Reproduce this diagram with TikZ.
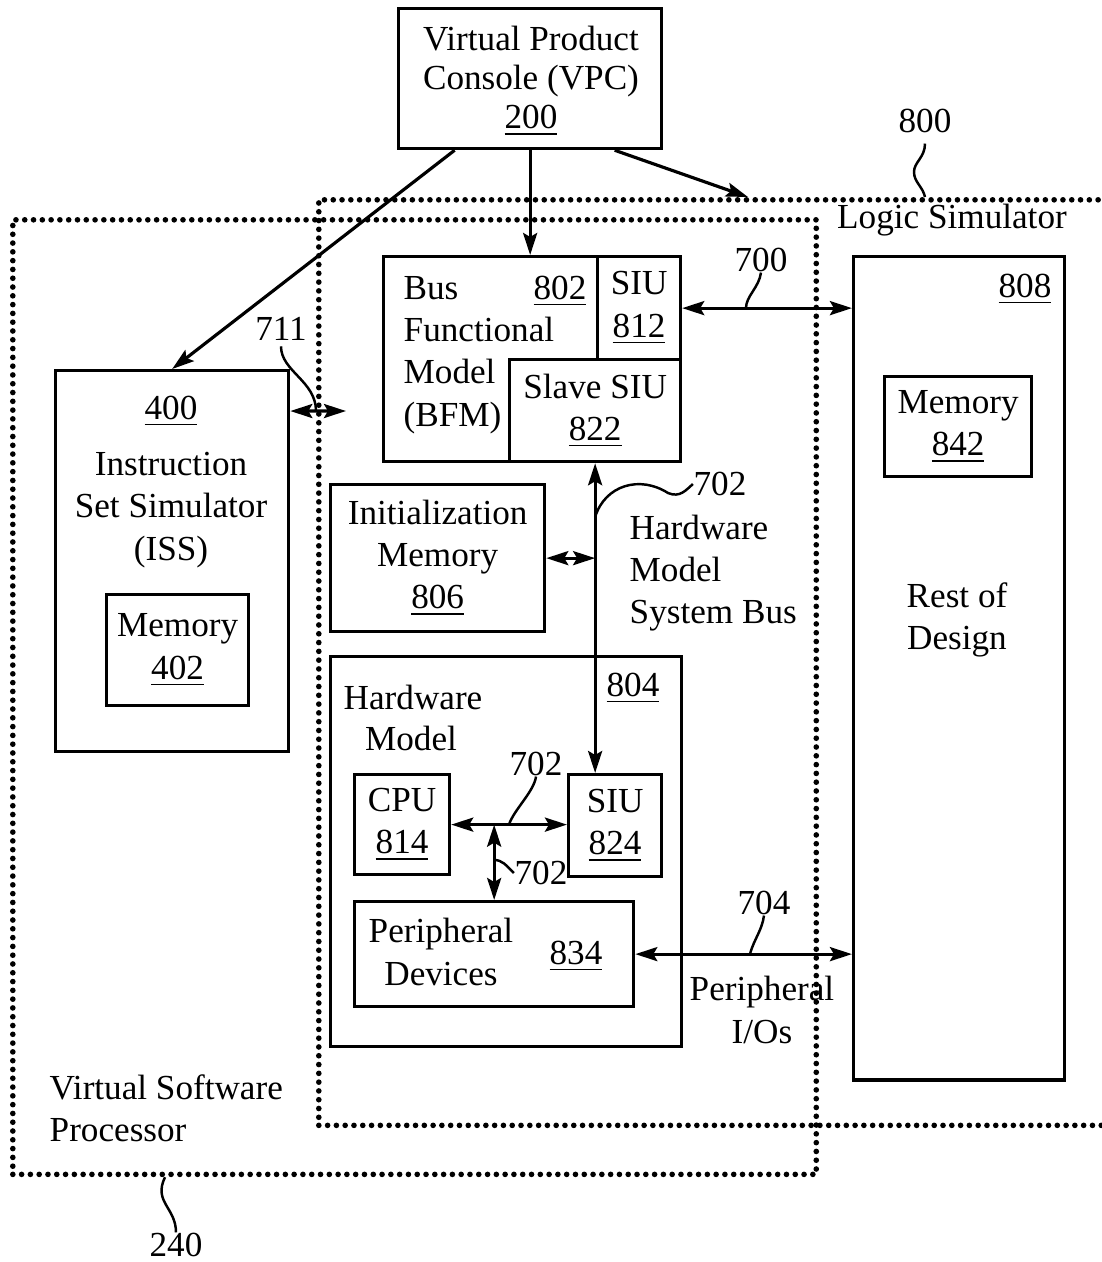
\documentclass[tikz,border=0pt]{standalone}
\usepackage{fontspec}
\setmainfont{Liberation Serif}
\usetikzlibrary{arrows.meta,calc}
\tikzset{blk/.style={draw, line width=0.9pt, inner sep=0pt, anchor=north west, align=center}}
\tikzset{dotbox/.style={draw, line width=1.6pt, line cap=round, dash pattern=on 0pt off 2.5pt, inner sep=0pt, anchor=north west}}
\tikzset{txt/.style={inner sep=0pt}}
\tikzset{bus/.style={line width=0.9pt}}
\tikzset{lead/.style={line width=0.7pt}}
\begin{document}
\begin{tikzpicture}[x=0.01cm, y=-0.01cm, font=\fontsize{10}{12}\selectfont,
  >={Stealth[length=2.2mm,width=1.4mm,inset=0.4mm]}]
\useasboundingbox (0,0) rectangle (1102,1262);
\node[dotbox, minimum width=8.03cm, minimum height=9.54cm] (vsp) at (10,217) {};
\node[dotbox, minimum width=7.88cm, minimum height=9.25cm] (lsim) at (316,197) {};
\node[blk, minimum width=2.63cm, minimum height=1.40cm] (vpc) at (397,7) {};
\node[txt, align=center, font=\fontsize{10}{11.2}\selectfont] at (531,81) {Virtual Product\\Console (VPC)\\\underline{200}};
\node[blk, minimum width=2.33cm, minimum height=3.81cm] (iss) at (54,369) {};
\node[txt] at (171,411) {\underline{400}};
\node[txt, align=center] at (171,510) {Instruction\\Set Simulator\\(ISS)};
\node[blk, minimum width=1.42cm, minimum height=1.11cm] (mem402) at (105,593) {Memory\\\underline{402}};
\node[blk, minimum width=2.97cm, minimum height=2.05cm] (bfm) at (382,255) {};
\node[blk, minimum width=0.83cm, minimum height=1.03cm] (siu812) at (596,255) {SIU\\\underline{812}};
\node[blk, minimum width=1.71cm, minimum height=1.02cm] (slave) at (508,358) {Slave SIU\\\underline{822}};
\node[txt, align=left, anchor=west] at (403,355) {Bus\\Functional\\Model\\(BFM)};
\node[txt] at (560,291) {\underline{802}};
\node[blk, minimum width=2.11cm, minimum height=8.23cm] (rod) at (852,255) {};
\node[txt] at (1025,289) {\underline{808}};
\node[blk, minimum width=1.47cm, minimum height=1.00cm] (mem842) at (883,375) {Memory\\\underline{842}};
\node[txt, align=center] at (957,620) {Rest of\\Design};
\node[txt] at (952,220) {Logic Simulator};
\node[txt] (l800) at (925,121) {800};
\node[blk, minimum width=2.14cm, minimum height=1.47cm] (initmem) at (329,483) {Initialization\\Memory\\\underline{806}};
\node[txt, align=left, anchor=west] at (629,573) {Hardware\\Model\\System Bus};
\node[txt] (l702a) at (720,484) {702};
\node[blk, minimum width=3.51cm, minimum height=3.90cm] (hwm) at (329,655) {};
\node[txt, anchor=west] at (343,697) {Hardware};
\node[txt] at (411,738) {Model};
\node[txt] at (633,688) {\underline{804}};
\node[blk, minimum width=0.95cm, minimum height=1.00cm] (cpu) at (353,773) {CPU\\\underline{814}};
\node[blk, minimum width=0.93cm, minimum height=1.02cm] (siu824) at (567,773) {SIU\\\underline{824}};
\node[blk, minimum width=2.79cm, minimum height=1.05cm] (periph) at (353,900) {};
\node[txt, align=center] at (441,952) {Peripheral\\Devices};
\node[txt] at (576,956) {\underline{834}};
\node[txt] (l702b) at (536,764) {702};
\node[txt] (l702c) at (541,873) {702};
\node[txt] (l704) at (764,903) {704};
\node[txt, align=center] at (762,1010) {Peripheral\\I/Os};
\node[txt] (l700) at (761,260) {700};
\node[txt] (l711) at (281,329) {711};
\node[txt, align=left, anchor=west] at (49,1108) {Virtual Software\\Processor};
\node[txt] (l240) at (176,1245) {240};
\coordinate (tolsim) at (748,197);
\coordinate (c711) at (346,411);
\draw[bus,->] ([xshift=-0.755cm]vpc.south) -- (iss.north);
\draw[bus,->] (vpc.south) -- (vpc.south |- bfm.north);
\draw[bus,->] ([xshift=0.845cm]vpc.south) -- (tolsim);
\draw[bus,<->] ([yshift=-0.42cm]iss.north east) -- (c711);
\draw[bus,<->] (siu812.east) -- (siu812.east -| rod.west);
\draw[bus,<->] (slave.south) -- (slave.south |- siu824.north);
\draw[bus,<->] (initmem.east) -- (initmem.east -| slave.south);
\draw[bus,<->] (cpu.east) -- (cpu.east -| siu824.west);
\draw[bus,<->] (periph.north |- cpu.east) -- (periph.north);
\draw[bus,<->] (periph.east) -- (periph.east -| rod.west);
\draw[lead] ([yshift=-0.1cm]l800.south) .. controls +(0,14) and +(0,-10) .. (914,172) .. controls +(0,10) and +(-2,-10) .. (l800 |- lsim.north);
\draw[lead] (l700.south) .. controls +(-2,15) and +(0,-12) .. ([xshift=-0.15cm]l700 |- siu812.east);
\draw[lead] ([yshift=-0.05cm]l711.south) .. controls +(0,25) and +(0,-30) .. (lsim.west |- c711);
\draw[lead] ([yshift=-0.33cm]slave.south |- l702a) .. controls (605,485) and (640,475) .. (668,493) .. controls (680,498) and (686,490) .. (l702a.west);
\draw[lead] (l702b.south) .. controls +(-2,15) and +(5,-15) .. ([xshift=-0.27cm]l702b |- cpu.east);
\draw[lead] ([yshift=0.13cm]periph.north |- l702c) .. controls +(8,0) and +(-8,-8) .. (l702c.west);
\draw[lead] (l704.south) .. controls +(-2,15) and +(4,-15) .. ([xshift=-0.14cm]l704 |- periph.east);
\draw[lead] ([xshift=-0.11cm]l240 |- vsp.south) .. controls +(-12,25) and +(0,-25) .. (l240.north);
\end{tikzpicture}
\end{document}
